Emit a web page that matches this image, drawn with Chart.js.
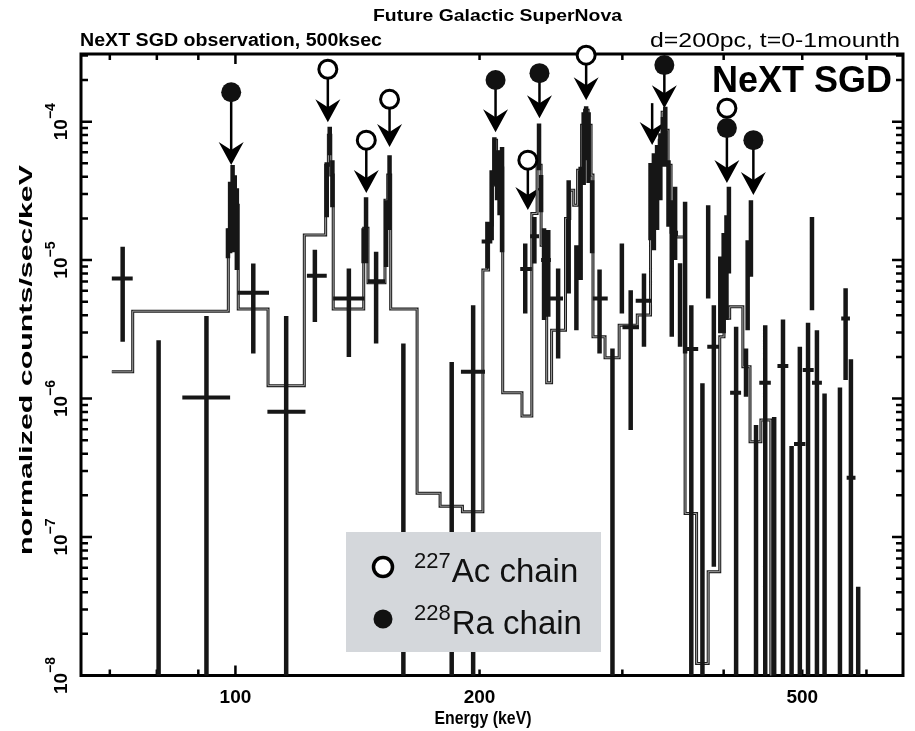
<!DOCTYPE html>
<html>
<head>
<meta charset="utf-8">
<script src="https://cdn.jsdelivr.net/npm/chart.js@4.4.1/dist/chart.umd.min.js"></script>
<style>
  html, body { margin: 0; padding: 0; background: #fff; }
  #wrap { width: 915px; height: 731px; }
</style>
</head>
<body>
<div id="wrap"><canvas id="spec" width="915" height="731"></canvas></div>
<script>
// model histogram: left bin edge (keV) and level (counts/sec/keV)
const modelEdges = [70.4, 74.7, 98.0, 98.7, 99.4, 100.1, 100.8, 109.7, 121.6, 129.2, 130.2, 131.1, 132.0,
  143.95, 145.7, 152.9, 154.1, 155.4, 167.5, 178.8, 190.5, 201.9, 205.2, 207.3, 208.4, 209.9, 211.7, 213.6,
  225.6, 232.0, 235.5, 238.2, 242.0, 245.4, 255.3, 258.4, 261.3, 264.2, 267.2, 269.5, 272.2, 274.5, 276.0,
  285.6, 297.3, 313.0, 325.0, 327.5, 330.3, 333.1, 335.9, 338.8, 341.6, 344.5, 349.9, 358.5, 370.4, 382.8,
  395.6, 400.4, 406.9, 422.4, 431.1, 444.6, 457.3];
const modelVals = [1.56e-6, 4.28e-6, 1.65e-5, 3.48e-5, 2.95e-5, 2.49e-5, 4.43e-6, 1.24e-6, 1.52e-5, 4.85e-5, 7.99e-5, 4.11e-5, 4.43e-6,
  1.70e-5, 6.86e-6, 2.71e-5, 4.11e-5, 4.43e-6, 2.07e-7, 1.67e-7, 1.52e-7, 8.47e-6, 1.79e-5, 3.48e-5, 7.35e-5, 6.02e-5, 4.62e-5, 1.10e-6,
  7.47e-7, 2.17e-5, 4.85e-5, 1.28e-5, 1.30e-6, 3.12e-6, 2.0e-5, 3.2e-5, 2.49e-5, 4.46e-5, 9.43e-5, 1.21e-4, 9.43e-5, 4.11e-5, 2.79e-6,
  1.97e-6, 3.39e-6, 4.01e-6, 2.71e-5, 4.11e-5, 5.27e-5, 7.35e-5, 1.17e-4, 8.68e-5, 4.85e-5, 1.59e-5, 1.47e-5, 1.48e-7, 1.22e-8, 5.62e-8,
  2.79e-6, 3.81e-6, 4.60e-6, 1.70e-6, 4.88e-7, 7.0e-7, 1e-9];

// observed bins: centre, bin edges (null = no bar), value (null = none), error ends (null low = down to zero)
const dataE = [72.6, 80.4, 92.1, 97.9, 98.5, 99.2, 99.8, 100.4, 105.2, 115.5, 125.3, 129.6, 130.7, 131.7,
  138.0, 143.9, 144.9, 149.1, 153.4, 154.9, 161.1, 184.8, 196.4, 204.5, 207.0, 208.6, 210.2, 211.7, 213.2,
  227.7, 233.7, 236.8, 238.2, 240.2, 243.1, 250.0, 257.6, 263.3, 266.5, 268.8, 270.7, 272.6, 275.3, 281.2,
  291.7, 299.6, 307.2, 319.0, 325.0, 328.1, 331.1, 334.2, 336.7, 338.9, 342.0, 345.2, 348.5, 353.4, 358.5,
  364.9, 376.6, 382.8, 389.0, 396.2, 400.0, 403.2, 406.0, 414.4, 426.2, 428.2, 432.2, 438.5, 450.1, 461.7,
  473.4, 485.1, 496.6, 508.3, 514.0, 521.3, 532.7, 556.5, 565.5, 574.1, 586.1];
const dataELo = [70.4, null, 86.0, null, null, null, null, null, 100.6, 109.5, 122.5, null, null, null,
  132.0, null, null, 145.6, null, null, null, null, 189.7, 201.2, null, null, null, null, null,
  224.5, 230.9, null, null, 238.2, null, 244.3, null, null, null, null, null, null, null, 275.9,
  null, null, 300.1, 311.6, null, null, null, null, null, null, null, null, null, null, null,
  360.1, null, null, 381.8, null, null, null, null, 407.4, null, null, null, null, 442.6, null,
  466.0, null, 488.4, 500.7, null, 514.0, null, null, 558.5, 567.2, null];
const dataEHi = [74.7, null, 98.5, null, null, null, null, null, 110.0, 122.0, 129.6, null, null, null,
  144.2, null, null, 152.9, null, null, null, null, 203.1, 207.4, null, null, null, null, null,
  232.0, 236.8, null, null, 244.9, null, 253.5, null, null, null, null, null, null, null, 287.8,
  null, null, 314.5, 325.6, null, null, null, null, null, null, null, null, null, null, null,
  372.1, null, null, 394.8, null, null, null, null, 420.3, null, null, null, null, 457.3, null,
  480.6, null, 504.5, 516.5, null, 528.7, null, null, 572.5, 581.6, null];
const dataY = [7.38e-6, null, 1.02e-6, 1.39e-5, 2.30e-5, 3.2e-5, 2.95e-5, 2.11e-5, 5.81e-6, 8.03e-7, 7.70e-6, 3.48e-5, 7.35e-5, 3.78e-5,
  5.29e-6, 1.28e-5, 1.88e-5, 7.05e-6, 1.79e-5, 4.25e-5, null, null, 1.56e-6, 1.36e-5, 2.95e-5, 6.44e-5, 4.85e-5, 4.11e-5, 2.95e-5,
  8.61e-6, 1.49e-5, 6.77e-5, 3.1e-5, 1.0e-5, 9.2e-6, 5.29e-6, 1.65e-5, 7.17e-6, 2.11e-5, 7.35e-5, 1.06e-4, 8.68e-5, 2.30e-5, 5.29e-6,
  null, 8.05e-6, 3.27e-6, 5.08e-6, 2.71e-5, 3.2e-5, 4.11e-5, 5.27e-5, 8.68e-5, 1.03e-4, 3.2e-5, 8.47e-6, 1.94e-5, 5.81e-6, 1.18e-5,
  2.28e-6, null, 1.47e-5, 2.37e-6, 6.07e-6, 8.47e-6, 1.18e-5, 1.39e-5, 1.10e-6, 1.61e-6, 6.79e-6, 1.65e-5, null, 1.30e-6, null,
  1.72e-6, null, 4.69e-7, 1.61e-6, 1.25e-5, 1.30e-6, null, null, 3.79e-6, 2.68e-7, null];
const dataYLo = [2.57e-6, null, null, 1.03e-5, 1.12e-5, 1.14e-5, 2.1e-5, 8.47e-6, 2.12e-6, null, 3.58e-6, 2.04e-5, 5.73e-5, 2.41e-5,
  2.0e-6, 9.51e-6, 9.51e-6, 2.50e-6, 8.9e-6, 1.65e-5, null, null, null, 8.71e-6, 1.39e-5, 3.48e-5, 2.71e-5, 2.11e-5, 1.14e-5,
  4.12e-6, 9.47e-6, 4.46e-5, 2.22e-5, 3.69e-6, 3.9e-6, 1.95e-6, 5.75e-6, 3.12e-6, 7.17e-6, 3.48e-5, 5.27e-5, 3.6e-5, 1.12e-5, 2.12e-6,
  null, 4.12e-6, 5.93e-7, 2.37e-6, 1.39e-5, 1.18e-5, 1.65e-5, 2.71e-5, 4.72e-5, 4.72e-5, 1.74e-5, 2.79e-6, 1.0e-5, 2.37e-6, 2.12e-6,
  null, null, 5.29e-6, 6.1e-8, 2.96e-6, 2.96e-6, 3.69e-6, 8.02e-6, null, 1.03e-6, 3.12e-6, 7.57e-6, null, null, null,
  null, null, null, null, 4.35e-6, null, null, null, 1.36e-6, null, null];
const dataYHi = [1.25e-5, 2.64e-6, 3.94e-6, 1.7e-5, 3.68e-5, 4.86e-5, 4.1e-5, 3.31e-5, 9.47e-6, 3.94e-6, 1.19e-5, 5.1e-5, 9.17e-5, 5.27e-5,
  8.71e-6, 1.70e-5, 2.85e-5, 1.15e-5, 2.71e-5, 5.73e-5, 2.50e-6, 1.84e-6, 4.73e-6, 1.89e-5, 4.46e-5, 7.73e-5, 6.22e-5, 6.22e-5, 6.55e-5,
  1.32e-5, 2.05e-5, 9.7e-5, 4.11e-5, 1.7e-5, 1.65e-5, 8.71e-6, 3.78e-5, 1.28e-5, 4.72e-5, 1.17e-4, 1.29e-4, 1.17e-4, 3.78e-5, 8.57e-6,
  2.3e-6, 1.32e-5, 6.07e-6, 8.02e-6, 5.02e-5, 5.92e-5, 6.77e-5, 8.26e-5, 1.08e-4, 1.28e-4, 5.27e-5, 2.71e-5, 3.38e-5, 9.51e-6, 2.64e-5,
  4.73e-6, 1.29e-6, 2.49e-5, 4.73e-6, 1.06e-5, 1.57e-5, 2.11e-5, 3.38e-5, 3.3e-6, 2.3e-6, 1.39e-5, 2.71e-5, 6.44e-7, 3.39e-6, 7.35e-7,
  3.73e-6, 4.54e-7, 2.37e-6, 3.53e-6, 2.05e-5, 3.12e-6, 1.09e-6, 1.2e-6, 6.25e-6, 1.92e-6, 4.37e-8];

// decay-chain line markers: energy, chain, marker level, arrow tip level
const markE = [98.8, 130.0, 145.0, 154.9, 209.3, 229.4, 237.1, 270.7, 326.5, 338.0, 403.7, 403.7, 435.2];
const markKind = ['Ra', 'Ac', 'Ac', 'Ac', 'Ra', 'Ac', 'Ra', 'Ac', '', 'Ra', 'Ac', 'Ra', 'Ra'];
const markY = [1.63e-4, 2.39e-4, 7.35e-5, 1.45e-4, 2.0e-4, 5.27e-5, 2.24e-4, 3.02e-4, 1.36e-4, 2.56e-4, 1.25e-4, 8.98e-5, 7.35e-5];
const markTip = [4.86e-5, 9.9e-5, 3.05e-5, 6.55e-5, 8.4e-5, 2.3e-5, 1.06e-4, 1.43e-4, 6.77e-5, 1.25e-4, null, 3.6e-5, 2.95e-5];

// axes
const xTickVals = [70, 80, 90, 100, 200, 300, 400, 500, 600];
const xTickLabels = [100, 200, 500];
const yDecades = [-8, -7, -6, -5, -4];

const legendSup = ['227', '228'];
const legendMain = ['Ac chain', 'Ra chain'];
const legendKind = ['Ac', 'Ra'];

const X_MIN = 64.5, X_MAX = 665.6, Y_MIN = 1e-8, Y_MAX = 3.08e-4;
const BOLD = '"Liberation Sans", Arial, sans-serif';
const PLAIN = '"Liberation Sans", Arial, sans-serif';

// build chart points
const modelPts = modelEdges.map((e, i) => ({ x: e, y: modelVals[i] }));
const floorY = Y_MIN / 10;
const errV = [];
const errH = [];
dataE.forEach((e, i) => {
    errV.push({ x: e, y: dataYLo[i] === null ? floorY : dataYLo[i] }, { x: e, y: dataYHi[i] }, { x: e, y: null });
    if (dataELo[i] !== null && dataY[i] !== null) {
        errH.push({ x: dataELo[i], y: dataY[i] }, { x: dataEHi[i], y: dataY[i] }, { x: dataEHi[i], y: null });
    }
});
const acPts = [], raPts = [];
markE.forEach((e, i) => {
    if (markKind[i] === 'Ac') acPts.push({ x: e, y: markY[i] });
    if (markKind[i] === 'Ra') raPts.push({ x: e, y: markY[i] });
});

function fitText(ctx, txt, x, y, w, font, align, rot) {
    ctx.save();
    ctx.font = font;
    ctx.translate(x, y);
    if (rot) ctx.rotate(rot);
    const m = ctx.measureText(txt).width;
    ctx.scale(w / m, 1);
    ctx.textAlign = align || 'center';
    ctx.textBaseline = rot ? 'middle' : 'alphabetic';
    ctx.fillStyle = '#000';
    ctx.fillText(txt, 0, 0);
    ctx.restore();
}

// frame, inward ticks and arrows go under the datasets
const framePlugin = {
    id: 'frame',
    beforeDatasetsDraw(chart) {
        const { ctx, chartArea: a, scales: { x, y } } = chart;
        ctx.save();
        ctx.strokeStyle = '#000';
        ctx.fillStyle = '#000';
        ctx.lineWidth = 2.5;
        ctx.beginPath();
        xTickVals.forEach(v => {
            const px = x.getPixelForValue(v);
            const len = v === 100 ? 10 : 6;
            ctx.moveTo(px, a.bottom); ctx.lineTo(px, a.bottom - len);
            ctx.moveTo(px, a.top); ctx.lineTo(px, a.top + len);
        });
        yDecades.forEach(d => {
            for (let m = 1; m <= 9; m++) {
                const v = m * Math.pow(10, d);
                if (v > Y_MAX) break;
                const py = y.getPixelForValue(v);
                const len = m === 1 ? 11 : 7;
                ctx.moveTo(a.left, py); ctx.lineTo(a.left + len, py);
                ctx.moveTo(a.right, py); ctx.lineTo(a.right - len, py);
            }
        });
        ctx.stroke();
        ctx.lineWidth = 3;
        ctx.strokeRect(a.left, a.top, a.right - a.left, a.bottom - a.top);

        // arrows
        ctx.lineWidth = 2.5;
        markE.forEach((e, i) => {
            if (markTip[i] === null) return;
            const px = x.getPixelForValue(e);
            const y0 = y.getPixelForValue(markY[i]);
            const tip = y.getPixelForValue(markTip[i]);
            ctx.beginPath();
            ctx.moveTo(px, y0); ctx.lineTo(px, tip - 12);
            ctx.stroke();
            ctx.beginPath();
            ctx.moveTo(px, tip);
            ctx.lineTo(px - 12.5, tip - 23);
            ctx.lineTo(px, tip - 15);
            ctx.lineTo(px + 12.5, tip - 23);
            ctx.closePath();
            ctx.fill();
        });
        ctx.restore();
    },
    afterDatasetsDraw(chart) {
        const ctx = chart.ctx;
        ctx.save();
        // legend box
        ctx.fillStyle = '#d4d7db';
        ctx.fillRect(346, 532, 255, 120);
        const rows = [568, 620];
        legendMain.forEach((t, i) => {
            const cy = rows[i];
            ctx.beginPath();
            ctx.arc(383, cy - 1, 9.5, 0, Math.PI * 2);
            if (legendKind[i] === 'Ac') {
                ctx.fillStyle = '#fff'; ctx.fill();
                ctx.lineWidth = 3.5; ctx.strokeStyle = '#000'; ctx.stroke();
            } else {
                ctx.fillStyle = '#111'; ctx.fill();
            }
            ctx.fillStyle = '#111';
            ctx.textAlign = 'left';
            ctx.textBaseline = 'alphabetic';
            ctx.font = '22px ' + PLAIN;
            ctx.fillText(legendSup[i], 414, cy);
            const sw = ctx.measureText(legendSup[i]).width;
            ctx.font = '33px ' + PLAIN;
            ctx.fillText(t, 414 + sw + 1, cy + 13.5);
        });
        ctx.restore();
    },
    afterDraw(chart) {
        const { ctx, scales: { y } } = chart;
        // y tick labels, rotated, with superscript exponent
        yDecades.forEach(d => {
            const py = y.getPixelForValue(Math.pow(10, d));
            ctx.save();
            ctx.translate(67, py);
            ctx.rotate(-Math.PI / 2);
            ctx.fillStyle = '#000';
            ctx.textBaseline = 'alphabetic';
            ctx.textAlign = 'left';
            ctx.font = 'bold 19px ' + BOLD;
            const w1 = ctx.measureText('10').width;
            ctx.font = 'bold 14px ' + BOLD;
            const sup = '\u2212' + Math.abs(d);
            const w2 = ctx.measureText(sup).width;
            const start = -(w1 + w2) / 2;
            ctx.font = 'bold 19px ' + BOLD;
            ctx.fillText('10', start, 0);
            ctx.font = 'bold 14px ' + BOLD;
            ctx.fillText(sup, start + w1, -12);
            ctx.restore();
        });
        fitText(ctx, 'normalized counts/sec/keV', 27, 360, 390, 'bold 18px ' + BOLD, 'center', -Math.PI / 2);
        fitText(ctx, 'Energy (keV)', 483, 724, 97, 'bold 18px ' + BOLD, 'center');
        fitText(ctx, 'Future Galactic SuperNova', 497.5, 21, 249, 'bold 17px ' + BOLD, 'center');
        fitText(ctx, 'NeXT SGD observation, 500ksec', 80, 46, 302, 'bold 18px ' + BOLD, 'left');
        fitText(ctx, 'd=200pc, t=0-1mounth', 650, 47, 250, '20px ' + PLAIN, 'left');
        fitText(ctx, 'NeXT SGD', 712, 92, 180, 'bold 37px ' + PLAIN, 'left');
    }
};

new Chart(document.getElementById('spec'), {
    type: 'line',
    data: {
        datasets: [
            { label: 'model', data: modelPts, stepped: 'before', borderColor: '#1c1c1c', borderWidth: 3, pointRadius: 0, fill: false, order: 6 },
            { label: 'model inner', data: modelPts, stepped: 'before', borderColor: '#a0a0a0', borderWidth: 1, pointRadius: 0, fill: false, order: 5 },
            { label: 'errors', data: errV, borderColor: '#161616', borderWidth: 4.5, pointRadius: 0, spanGaps: false, borderCapStyle: 'butt', order: 4 },
            { label: 'bins', data: errH, borderColor: '#161616', borderWidth: 4, pointRadius: 0, spanGaps: false, borderCapStyle: 'butt', order: 3 },
            { label: '227Ac chain', data: acPts, showLine: false, pointStyle: 'circle', pointRadius: 9, pointBorderWidth: 3,
              pointBorderColor: '#000', pointBackgroundColor: '#fff', clip: false, order: 2 },
            { label: '228Ra chain', data: raPts, showLine: false, pointStyle: 'circle', pointRadius: 10, pointBorderWidth: 0,
              pointBorderColor: '#111', pointBackgroundColor: '#111', clip: false, order: 1 }
        ]
    },
    options: {
        responsive: false,
        animation: false,
        devicePixelRatio: 1,
        layout: { padding: { top: 54, right: 3, left: 0, bottom: 0 } },
        plugins: { legend: { display: false }, tooltip: { enabled: false } },
        scales: {
            x: {
                type: 'logarithmic', min: X_MIN, max: X_MAX,
                grid: { display: false, drawTicks: false },
                border: { display: false },
                afterBuildTicks: s => { s.ticks = xTickVals.map(v => ({ value: v })); },
                afterFit: s => { s.height = 55.5; },
                ticks: {
                    autoSkip: false, maxRotation: 0, minRotation: 0, padding: 11, color: '#000',
                    font: { family: BOLD, weight: 'bold', size: 19 },
                    callback: v => xTickLabels.includes(v) ? String(v) : ''
                }
            },
            y: {
                type: 'logarithmic', min: Y_MIN, max: Y_MAX,
                grid: { display: false, drawTicks: false },
                border: { display: false },
                ticks: { display: false },
                afterFit: s => { s.width = 81; }
            }
        }
    },
    plugins: [framePlugin]
});
</script>
</body>
</html>
